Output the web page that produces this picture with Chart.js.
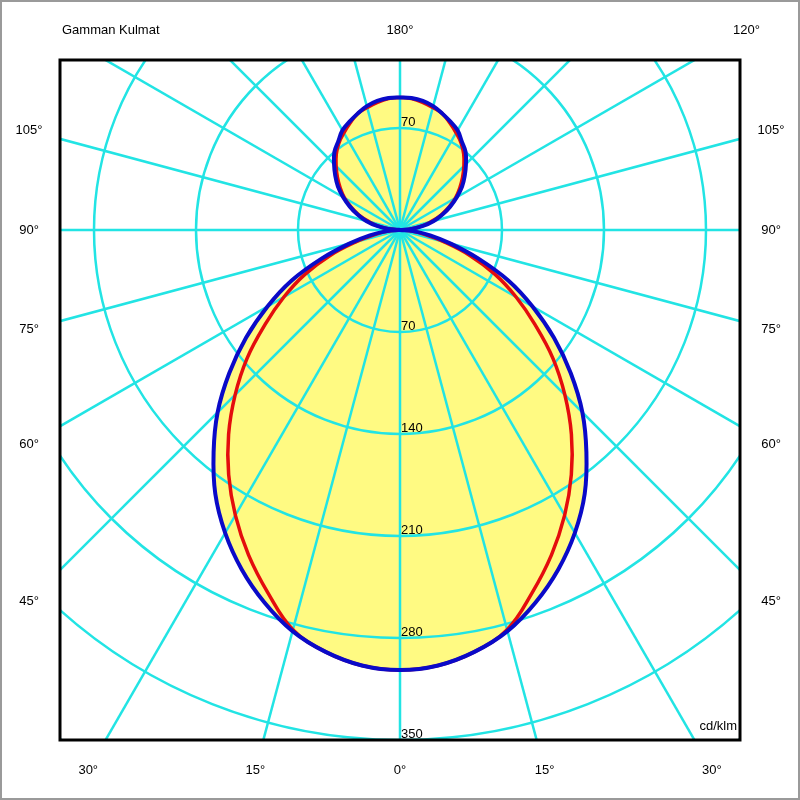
<!DOCTYPE html>
<html>
<head>
<meta charset="utf-8">
<script src="https://cdn.jsdelivr.net/npm/chart.js@4.4.1/dist/chart.umd.min.js"></script>
<style>
  html, body { margin: 0; padding: 0; background: #ffffff; }
  #wrap { width: 800px; height: 800px; }
</style>
</head>
<body>
<div id="wrap"><canvas id="polar" width="800" height="800"></canvas></div>
<script>
// gamma angles (deg, 0 = straight down) and intensities in cd/klm
const gammaAngles = [0, 5, 10, 15, 20, 25, 30, 35, 40, 45, 50, 55, 60, 65, 70, 75, 80, 85, 90,
  95, 100, 105, 110, 115, 120, 125, 130, 135, 140, 145, 150, 155, 160, 165, 170, 175, 180];
// C90-C270 plane (blue)
const intensityC90 = [302, 300, 294, 285, 272, 257, 240, 221, 199, 177, 153, 129, 105, 82, 57, 36, 21, 9, 0,
  8, 16, 24, 31, 38, 45, 52, 58, 64, 70, 74, 79, 82, 85, 88, 90, 91, 91];
// C0-C180 plane (red)
const intensityC0 = [302, 300, 294, 284, 265, 246, 226, 205, 183, 160, 137, 113, 92, 72, 51, 31, 17, 8, 0,
  7.5, 15, 22, 30, 37, 44, 50, 56, 62, 68, 73, 77, 81, 85, 87, 89, 90.5, 91];

const ringValues = [70, 140, 210, 280, 350, 420, 490];
const ringLabelsBelow = [70, 140, 210, 280, 350];
const ringLabelsAbove = [70];
const spokeAngles = [0, 15, 30, 45, 60, 75, 90, 105, 120, 135, 150, 165, 180, 195, 210, 225, 240, 255, 270, 285, 300, 315, 330, 345];
// negative = left half of the diagram
const angleLabels = [-30, -15, 0, 15, 30, 45, 60, 75, 90, 105, -45, -60, -75, -90, -105, 180, 120];
const titleText = 'Gamman Kulmat';
const unitText = 'cd/klm';

const GRID = '#22e4e4';
const FILL = '#fffa82';
const RED = '#e40d0d';
const BLUE = '#0a0ac8';
const FONT = '13px "Liberation Sans", Arial, sans-serif';

// closed outline that starts and ends at the centre (gamma 90)
function outline(values) {
  const pt = (i, side) => {
    const t = gammaAngles[i] * Math.PI / 180;
    return { x: side * values[i] * Math.sin(t), y: -values[i] * Math.cos(t) };
  };
  const mid = gammaAngles.indexOf(90);
  const last = gammaAngles.length - 1;
  const pts = [];
  for (let i = mid; i >= 0; i--) pts.push(pt(i, 1));
  for (let i = 1; i <= last; i++) pts.push(pt(i, -1));
  for (let i = last - 1; i >= mid; i--) pts.push(pt(i, 1));
  return pts;
}

const polarFrame = {
  id: 'polarFrame',
  afterDatasetDraw(chart, args) {
    if (args.index !== 0) return;
    const { ctx, chartArea: a, scales: { x, y } } = chart;
    const cx = x.getPixelForValue(0), cy = y.getPixelForValue(0);
    ctx.save();
    ctx.beginPath();
    ctx.rect(a.left, a.top, a.right - a.left, a.bottom - a.top);
    ctx.clip();
    ctx.strokeStyle = GRID;
    ctx.lineWidth = 2.5;
    ringValues.forEach(v => {
      const r = Math.abs(y.getPixelForValue(-v) - cy);
      ctx.beginPath();
      ctx.arc(cx, cy, r, 0, Math.PI * 2);
      ctx.stroke();
    });
    const reach = 800;
    spokeAngles.forEach(d => {
      const t = d * Math.PI / 180;
      ctx.beginPath();
      ctx.moveTo(cx, cy);
      ctx.lineTo(x.getPixelForValue(reach * Math.sin(t)), y.getPixelForValue(-reach * Math.cos(t)));
      ctx.stroke();
    });
    ctx.restore();
  },
  afterDraw(chart) {
    const { ctx, chartArea: a, scales: { x, y } } = chart;
    const cx = x.getPixelForValue(0), cy = y.getPixelForValue(0);
    ctx.save();
    // outer grey border
    ctx.strokeStyle = '#9a9a9a';
    ctx.lineWidth = 2;
    ctx.strokeRect(1, 1, chart.width - 2, chart.height - 2);
    // plot frame
    ctx.strokeStyle = '#000';
    ctx.lineWidth = 3;
    ctx.strokeRect(a.left, a.top, a.right - a.left, a.bottom - a.top);

    ctx.fillStyle = '#000';
    ctx.font = FONT;
    // ring labels
    ctx.textAlign = 'left';
    ctx.textBaseline = 'alphabetic';
    ringLabelsBelow.forEach(v => ctx.fillText(String(v), cx + 1, y.getPixelForValue(-v) - 2.5));
    ringLabelsAbove.forEach(v => ctx.fillText(String(v), cx + 1, y.getPixelForValue(v) - 2.5));

    // angle labels on a rectangle just outside the frame
    const L = a.left - 31, R = a.right + 31, T = a.top - 30, B = a.bottom + 30;
    ctx.textAlign = 'center';
    ctx.textBaseline = 'middle';
    angleLabels.forEach(s => {
      const t = Math.abs(s) * Math.PI / 180;
      const dx = (s < 0 ? -1 : 1) * Math.sin(t), dy = Math.cos(t);
      let k = Infinity;
      if (dx > 1e-9) k = Math.min(k, (R - cx) / dx);
      if (dx < -1e-9) k = Math.min(k, (L - cx) / dx);
      if (dy > 1e-9) k = Math.min(k, (B - cy) / dy);
      if (dy < -1e-9) k = Math.min(k, (T - cy) / dy);
      ctx.fillText(Math.abs(s) + '°', cx + k * dx, cy + k * dy);
    });

    ctx.textAlign = 'left';
    ctx.fillText(titleText, a.left + 2, a.top - 30);
    ctx.textAlign = 'right';
    ctx.textBaseline = 'alphabetic';
    ctx.fillText(unitText, a.right - 3, a.bottom - 10);
    ctx.restore();
  }
};

new Chart(document.getElementById('polar'), {
  type: 'scatter',
  data: {
    datasets: [
      { label: 'fill', data: outline(intensityC90), showLine: true, fill: 'shape',
        backgroundColor: FILL, borderColor: 'rgba(0,0,0,0)', borderWidth: 0,
        pointRadius: 0, tension: 0.4, order: 3 },
      { label: 'C0 - C180', data: outline(intensityC0), showLine: true, fill: false,
        borderColor: RED, borderWidth: 3.5, pointRadius: 0, tension: 0.4, order: 2 },
      { label: 'C90 - C270', data: outline(intensityC90), showLine: true, fill: false,
        borderColor: BLUE, borderWidth: 4, pointRadius: 0, tension: 0.4, order: 1 }
    ]
  },
  options: {
    responsive: false,
    animation: false,
    events: [],
    layout: { padding: { left: 60, right: 60, top: 60, bottom: 60 } },
    plugins: { legend: { display: false }, tooltip: { enabled: false } },
    scales: {
      x: { type: 'linear', min: -233.33, max: 233.33, display: false },
      y: { type: 'linear', min: -350, max: 116.67, display: false }
    }
  },
  plugins: [polarFrame]
});
</script>
</body>
</html>
